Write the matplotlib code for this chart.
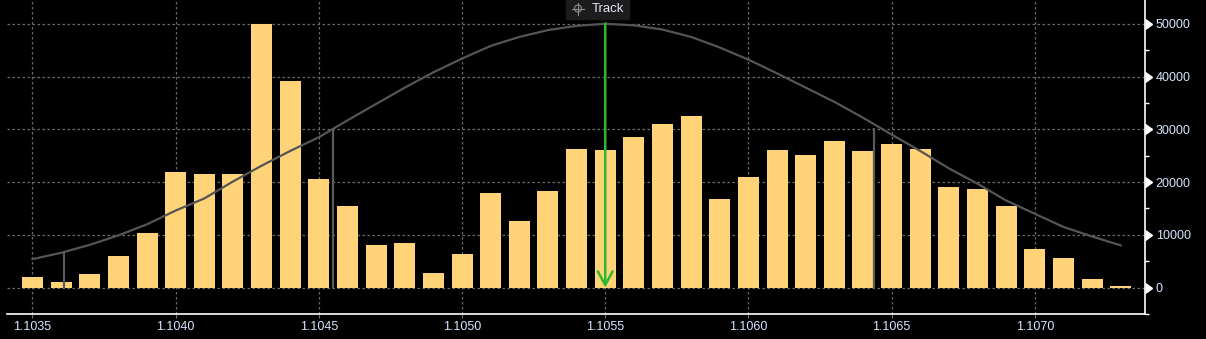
import numpy as np
import matplotlib
matplotlib.use("Agg")
import matplotlib.pyplot as plt
from matplotlib.patches import Rectangle, Circle
from matplotlib.lines import Line2D
from matplotlib.ticker import MultipleLocator

# 价位(每档 0.0001)
prices = np.round(np.arange(39) * 0.0001 + 1.1035, 4)
volume = [2100, 1100, 2500, 5900, 10300, 21900, 21500, 21500, 50000, 39100,
          20500, 15400, 8000, 8500, 2700, 6300, 17900, 12700, 18400, 26200,
          26000, 28500, 31000, 32500, 16700, 20900, 26000, 25100, 27700, 25800,
          27200, 26200, 19000, 18600, 15400, 7400, 5700, 1700, 400]
# 拟合曲线
curve = [5400, 6600, 8100, 9900, 12000, 14600, 16900, 20100, 23100, 25900,
         28500, 31700, 34800, 37900, 40800, 43400, 45800, 47500, 48800, 49600,
         50000, 49700, 48900, 47500, 45500, 43200, 40600, 37900, 35200, 32200,
         29000, 25900, 22600, 19700, 16500, 14000, 11500, 9700, 8000]
# ±sigma 竖线
sig_x = [1.10361, 1.10455, 1.10644]
sig_top = [6700, 30330, 30330]
track_x = 1.1055
track_top = 50000

BAR = "#FFD479"
TXT = "#d6e6ff"

W, H = 1206, 339
fig = plt.figure(figsize=(W / 100, H / 100), dpi=100, facecolor="black")
ax = fig.add_axes([7.3 / W, 1 - 314 / H, (1145.3 - 7.3) / W, 314 / H], facecolor="black")

ax.bar(prices, volume, width=0.0000735, color=BAR, zorder=2)
ax.plot(prices, curve, color="#555555", lw=1.6, zorder=3)
ax.vlines(sig_x, 0, sig_top, color="#5a5a5a", lw=1.6, zorder=3)
ax.annotate("", xy=(track_x, 0), xytext=(track_x, track_top),
            arrowprops=dict(arrowstyle="->,head_length=0.7,head_width=0.38", color="#2fb82f",
                            lw=1.8, mutation_scale=14, shrinkA=0, shrinkB=0), zorder=4)

ax.set_xlim(1.103412, 1.107386)
ax.set_ylim(-5000, 54500)
ax.xaxis.set_major_locator(MultipleLocator(0.0005))
ax.xaxis.set_major_formatter(plt.FuncFormatter(lambda v, p: f"{v:.4f}"))
ax.yaxis.set_major_locator(MultipleLocator(10000))
ax.yaxis.set_minor_locator(MultipleLocator(5000))
ax.yaxis.tick_right()
ax.set_yticks([0, 10000, 20000, 30000, 40000, 50000])

for s in ("left", "top"):
    ax.spines[s].set_visible(False)
for s in ("right", "bottom"):
    ax.spines[s].set_color("white")
    ax.spines[s].set_linewidth(1.2)

ax.grid(True, which="major", color="#6a6a6a", lw=0.9, ls=(0, (2, 2)), zorder=1)
ax.set_axisbelow(True)
ax.tick_params(axis="x", colors="#6a6a6a", length=3, width=0.8, labelcolor=TXT,
               labelsize=9, pad=2)
ax.tick_params(axis="y", which="major", colors="white", length=6, width=1,
               labelcolor=TXT, labelsize=9, pad=1.5)
ax.tick_params(axis="y", which="minor", colors="white", length=3, width=1)
for t in ax.yaxis.get_major_ticks():
    t.tick2line.set_marker(9)
    t.tick2line.set_markersize(6.5)
    t.tick2line.set_markerfacecolor("white")
for lab in ax.get_xticklabels() + ax.get_yticklabels():
    lab.set_family("Liberation Sans")

# Track 标签
fig.patches.append(Rectangle((566 / W, 1 - 19 / H), 63 / W, 19 / H,
                             transform=fig.transFigure, color="#1c1c1c", zorder=5))
cx, cy = 578 / W, 1 - 8.5 / H
fig.patches.append(Circle((578, H - 8.5), 3.5, transform=None, fill=False,
                          ec="#8a8a8a", lw=0.8, zorder=6))
fig.lines.append(Line2D([572 / W, 584 / W], [cy, cy], transform=fig.transFigure,
                        color="#8a8a8a", lw=0.8, zorder=6))
fig.lines.append(Line2D([cx, cx], [1 - 2.5 / H, 1 - 14.5 / H], transform=fig.transFigure,
                        color="#8a8a8a", lw=0.8, zorder=6))
fig.text(592 / W, 1 - 9 / H, "Track", color="#dfe6f0", fontsize=9.5,
         family="Liberation Sans", ha="left", va="center", zorder=7)

fig.savefig("out.png", dpi=100, facecolor="black")
